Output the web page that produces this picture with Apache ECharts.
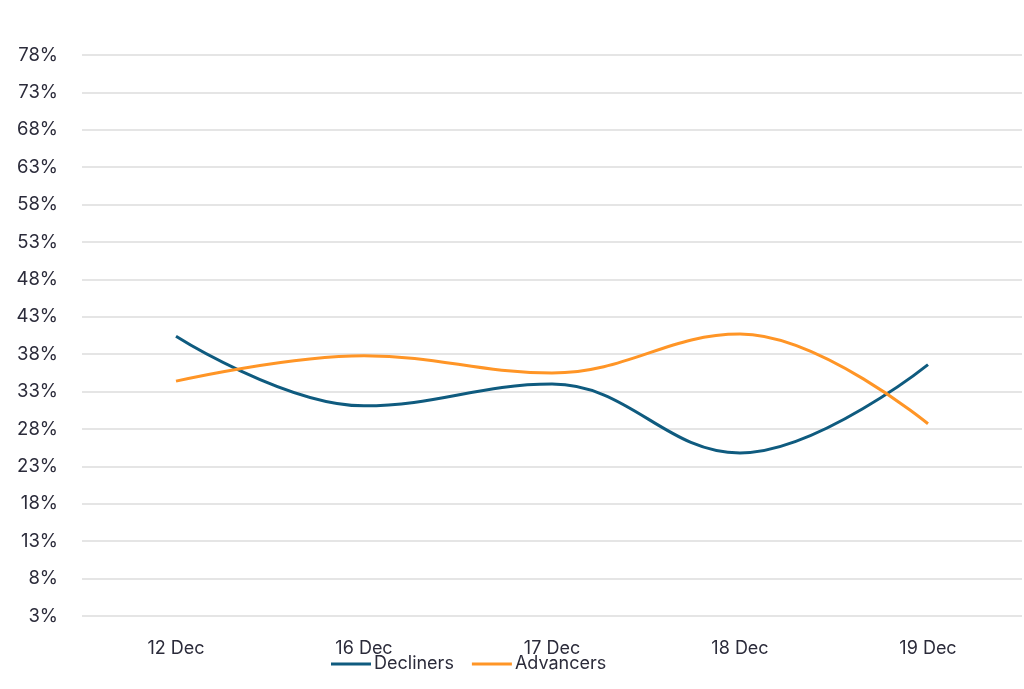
<!DOCTYPE html>
<html><head><meta charset="utf-8">
<script src="https://cdn.jsdelivr.net/npm/echarts@6/dist/echarts.min.js"></script>
<style>html,body{margin:0;padding:0;background:#fff}#c{width:1024px;height:689px}</style>
</head><body><div id="c"></div>
<script>
const categories = ['12 Dec','16 Dec','17 Dec','18 Dec','19 Dec'];
const decliners = [40.4, 31.1, 34.0, 24.8, 36.6];
const advancers = [34.4, 37.8, 35.5, 40.7, 28.7];
const seriesNames = ['Decliners','Advancers'];
const font = 'Inter, "Noto Sans", sans-serif';
const chart = echarts.init(document.getElementById('c'));
chart.setOption({
  animation:false,
  grid:{left:82,right:2,top:55,bottom:73},
  legend:{
    left:326, top:650, itemWidth:40, itemHeight:3, itemGap:18,
    icon:'rect',
    textStyle:{fontFamily:font,fontSize:18,color:'#2b2b3a',padding:[0,0,0,-2]},
    data:seriesNames
  },
  xAxis:{type:'category',data:categories,boundaryGap:true,
    axisLine:{show:false},axisTick:{show:false},
    axisLabel:{fontFamily:font,fontSize:18,color:'#2b2b3a',margin:24}},
  yAxis:{type:'value',min:3,max:78,interval:5,
    axisLabel:{formatter:'{value}%',fontFamily:font,fontSize:18.5,color:'#2b2b3a',margin:24},
    splitLine:{lineStyle:{color:'#dcdcdc',width:1.5}},
    axisLine:{show:false},axisTick:{show:false}},
  series:[
    {name:seriesNames[0],type:'line',data:decliners,smooth:0.4,showSymbol:false,
     lineStyle:{color:'#0f5b7f',width:3},itemStyle:{color:'#0f5b7f'}},
    {name:seriesNames[1],type:'line',data:advancers,smooth:0.4,showSymbol:false,
     lineStyle:{color:'#ff9526',width:3},itemStyle:{color:'#ff9526'}}
  ]
});
</script></body></html>
